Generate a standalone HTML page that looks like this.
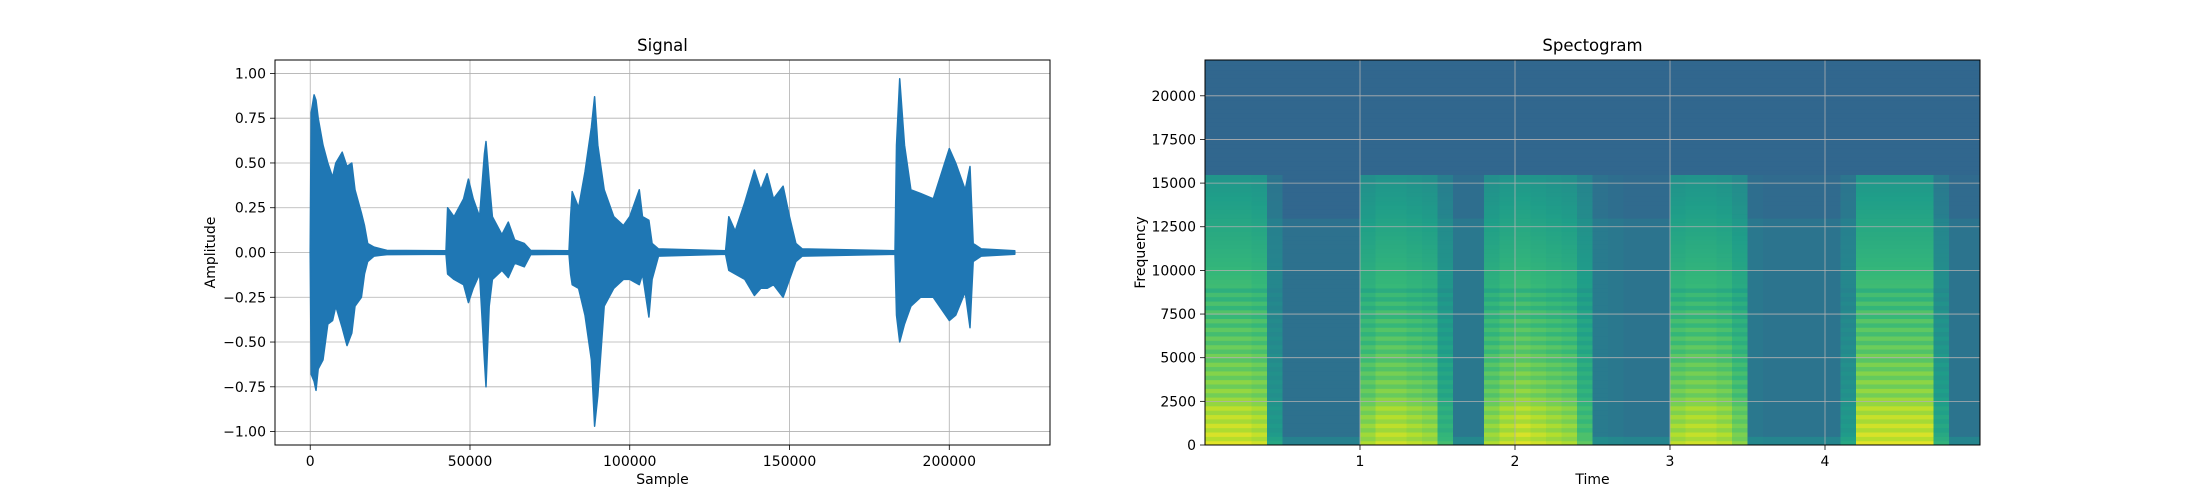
<!DOCTYPE html>
<html><head><meta charset="utf-8"><style>
html,body{margin:0;padding:0;background:#fff;}
svg{display:block;font-family:"DejaVu Sans","Liberation Sans",sans-serif;}
</style></head><body>
<svg id="fig" width="2200" height="500" viewBox="0 0 2200 500" xmlns="http://www.w3.org/2000/svg">
<defs><clipPath id="specClip"><rect x="1205" y="60" width="775" height="385"/></clipPath></defs>
<rect width="2200" height="500" fill="#fff"/>
<g id="sig"></g>
<g id="spec"></g>
</svg>
<script>
// ---- Signal data: envelope keypoints (sample in thousands, upper, lower)
const sigSamples = [0,0.3,1.2,1.8,2.5,4,5.5,7,8,10,11.5,13,14,16,17,18,20,24,42.5,
 43,45,48,49.5,51,53,54.5,55,56,57,60,62,64,67,69,81,
 81.5,82,84,86,88,89,90,92,95,98,100,103,104,106,107,109,130,
 131,133,136,139,141,143,145,148,150,152,154,183,
 183.5,184.5,186,188,191,195,200,202,205,206.5,207.5,210,220.5];
const sigUpper = [0.01,0.78,0.88,0.85,0.75,0.6,0.5,0.42,0.5,0.56,0.48,0.5,0.35,0.22,0.15,0.05,0.03,0.012,0.01,
 0.25,0.2,0.3,0.41,0.3,0.2,0.55,0.62,0.4,0.2,0.1,0.17,0.07,0.05,0.012,0.01,
 0.2,0.34,0.25,0.45,0.7,0.87,0.6,0.35,0.2,0.15,0.2,0.35,0.2,0.18,0.05,0.02,0.01,
 0.2,0.12,0.28,0.46,0.35,0.44,0.3,0.37,0.2,0.05,0.02,0.01,
 0.6,0.97,0.6,0.35,0.33,0.3,0.58,0.5,0.35,0.48,0.05,0.02,0.01];
const sigLower = [-0.01,-0.68,-0.72,-0.77,-0.65,-0.6,-0.4,-0.38,-0.3,-0.42,-0.52,-0.45,-0.3,-0.25,-0.12,-0.05,-0.02,-0.012,-0.01,
 -0.12,-0.15,-0.18,-0.28,-0.2,-0.12,-0.6,-0.75,-0.3,-0.15,-0.1,-0.14,-0.06,-0.08,-0.012,-0.01,
 -0.12,-0.18,-0.2,-0.35,-0.6,-0.97,-0.8,-0.3,-0.2,-0.15,-0.15,-0.18,-0.12,-0.36,-0.15,-0.02,-0.01,
 -0.1,-0.12,-0.15,-0.24,-0.2,-0.2,-0.18,-0.25,-0.15,-0.05,-0.02,-0.01,
 -0.35,-0.5,-0.4,-0.3,-0.25,-0.25,-0.38,-0.35,-0.22,-0.42,-0.05,-0.02,-0.01];
const sigXTicks = [0,50000,100000,150000,200000];
const sigXTickLabels = ["0","50000","100000","150000","200000"];
const sigYTicks = [-1,-0.75,-0.5,-0.25,0,0.25,0.5,0.75,1];
const sigYTickLabels = ["\u22121.00","\u22120.75","\u22120.50","\u22120.25","0.00","0.25","0.50","0.75","1.00"];

// ---- Spectrogram data: per 0.1s time bin speech intensity
const specTimes = Array.from({length:50},(_, i)=>i*0.1);
const specSpeech = [1,1,1,0.95,0.3,0,0,0,0,0,
 0.85,0.95,0.95,0.9,0.85,0.5,0.1,0.1,0.85,0.95,
 1,0.95,0.9,0.85,0.6,0.15,0.1,0.05,0.05,0.05,
 0.9,0.95,0.95,0.9,0.75,0.1,0.05,0.05,0.05,0.05,
 0.05,0.3,1,1,1,1,1,0.4,0.05,0.05];
const specXTicks=[1,2,3,4];
const specYTicks=[0,2500,5000,7500,10000,12500,15000,17500,20000];

const NS="http://www.w3.org/2000/svg";
function mk(tag,attrs,parent,text){const e=document.createElementNS(NS,tag);for(const k in attrs)e.setAttribute(k,attrs[k]);if(text!==undefined)e.textContent=text;parent.appendChild(e);return e;}

// ===== Signal chart
(function(){
 const g=document.getElementById('sig');
 const L=275,R=1050,T=60,B=445;
 const xmin=-11025,xmax=231525,ymin=-1.075,ymax=1.075;
 const X=v=>L+(v-xmin)/(xmax-xmin)*(R-L);
 const Y=v=>B-(v-ymin)/(ymax-ymin)*(B-T);
 sigXTicks.forEach((t,i)=>{
  const l=mk('line',{x1:X(t),x2:X(t),y1:T,y2:B,stroke:'#b0b0b0','stroke-width':0.8},g);
  
  const tk=mk('line',{x1:X(t),x2:X(t),y1:B,y2:B+5,stroke:'#000','stroke-width':0.8},g);
  
  const tx=mk('text',{x:X(t),y:B+21,'font-size':14,'text-anchor':'middle'},g,sigXTickLabels[i]);
  
 });
 sigYTicks.forEach((t,i)=>{
  const l=mk('line',{x1:L,x2:R,y1:Y(t),y2:Y(t),stroke:'#b0b0b0','stroke-width':0.8},g);
  
  const tk=mk('line',{x1:L-5,x2:L,y1:Y(t),y2:Y(t),stroke:'#000','stroke-width':0.8},g);
  
  const tx=mk('text',{x:L-9,y:Y(t)+5,'font-size':14,'text-anchor':'end'},g,sigYTickLabels[i]);
  
 });
 let d='';
 sigSamples.forEach((s,i)=>{d+=(i?'L':'M')+X(s*1000).toFixed(1)+','+Y(sigUpper[i]).toFixed(1);});
 for(let i=sigSamples.length-1;i>=0;i--){d+='L'+X(sigSamples[i]*1000).toFixed(1)+','+Y(sigLower[i]).toFixed(1);}
 d+='Z';
 const p=mk('path',{d:d,fill:'#1f77b4',stroke:'#1f77b4','stroke-width':1.5,'stroke-linejoin':'round'},g);
 
 const f=mk('rect',{x:L,y:T,width:R-L,height:B-T,fill:'none',stroke:'#000','stroke-width':1},g);
 
 const t1=mk('text',{x:(L+R)/2,y:51,'font-size':16.5,'text-anchor':'middle'},g,'Signal');
 
 const t2=mk('text',{x:(L+R)/2,y:484,'font-size':14,'text-anchor':'middle'},g,'Sample');
 
 const t3=mk('text',{x:0,y:0,'font-size':14,'text-anchor':'middle',transform:'translate(215,'+((T+B)/2)+') rotate(-90)'},g,'Amplitude');
 
})();

// ===== Spectrogram
(function(){
 const g=document.getElementById('spec');
 const L=1205,R=1980,T=60,B=445;
 const tmin=0,tmax=5,fmin=0,fmax=22050;
 const X=v=>L+(v-tmin)/(tmax-tmin)*(R-L);
 const Y=v=>B-(v-fmin)/(fmax-fmin)*(B-T);
 const vir=[[68,1,84],[72,40,120],[62,74,137],[49,104,142],[38,130,142],[31,158,137],[53,183,121],[109,205,89],[180,222,44],[253,231,37]];
 function cmap(v){v=Math.max(0,Math.min(1,v))*9;const i=Math.min(8,Math.floor(v)),f=v-i;const a=vir[i],b=vir[i+1];return 'rgb('+a.map((c,k)=>Math.round(c+(b[k]-c)*f)).join(',')+')';}
 const cells=mk('g',{'clip-path':'url(#specClip)'},g);
 
 
 const bandHz=250;
 specTimes.forEach((t,i)=>{
  const s=specSpeech[i];
  let k=0;
  for(let f=0;f<fmax;f+=bandHz,k++){
   const fc=f+bandHz/2;
   let base=fc<13000?0.37:0.33;
   if(fc<500) base=0.44;
   let v=base;
   if(fc<15600&&s>0.2){
    let sv=0.92-0.4*fc/15600+(fc<2500?0.04:0);
    if(fc<9000 && k%2===1) sv-=0.06;
    v=Math.max(base, base+(sv-base)*s);
   } else if(fc<15600&&s>0){ v=base+0.3*s; }
   const r=mk('rect',{x:X(t).toFixed(2),y:Y(f+bandHz).toFixed(2),width:(X(t+0.1)-X(t)+0.6).toFixed(2),height:(Y(f)-Y(f+bandHz)+0.6).toFixed(2),fill:cmap(v)},cells);
   
   
  }
 });
 specXTicks.forEach(t=>{
  const l=mk('line',{x1:X(t),x2:X(t),y1:T,y2:B,stroke:'#b0b0b0','stroke-width':0.8},g);
  
  const tk=mk('line',{x1:X(t),x2:X(t),y1:B,y2:B+5,stroke:'#000','stroke-width':0.8},g);
  
  const tx=mk('text',{x:X(t),y:B+21,'font-size':14,'text-anchor':'middle'},g,String(t));
  
 });
 specYTicks.forEach(t=>{
  const l=mk('line',{x1:L,x2:R,y1:Y(t),y2:Y(t),stroke:'#b0b0b0','stroke-width':0.8},g);
  
  const tk=mk('line',{x1:L-5,x2:L,y1:Y(t),y2:Y(t),stroke:'#000','stroke-width':0.8},g);
  
  const tx=mk('text',{x:L-9,y:Y(t)+5,'font-size':14,'text-anchor':'end'},g,String(t));
  
 });
 const f=mk('rect',{x:L,y:T,width:R-L,height:B-T,fill:'none',stroke:'#000','stroke-width':1},g);
 
 const t1=mk('text',{x:(L+R)/2,y:51,'font-size':16.5,'text-anchor':'middle'},g,'Spectogram');
 
 const t2=mk('text',{x:(L+R)/2,y:484,'font-size':14,'text-anchor':'middle'},g,'Time');
 
 const t3=mk('text',{x:0,y:0,'font-size':14,'text-anchor':'middle',transform:'translate(1145,'+((T+B)/2)+') rotate(-90)'},g,'Frequency');
 
})();
</script>
</body></html>
